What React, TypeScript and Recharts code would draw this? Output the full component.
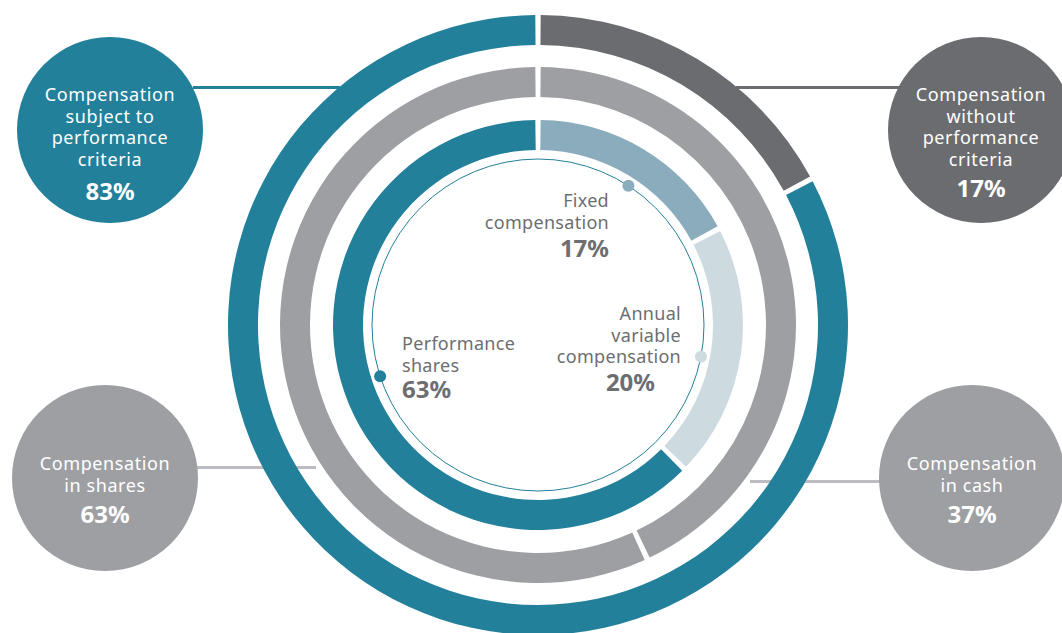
import React from 'react';
import { PieChart, Pie, Cell } from 'recharts';

// Outer ring: performance criteria split
const outerNames = ['Compensation without performance criteria', 'Compensation subject to performance criteria'];
const outerValues = [17, 83];

// Middle ring: cash vs shares (arc extent as drawn in the original)
const middleNames = ['Compensation in cash', 'Compensation in shares'];
const middleValues = [43, 57];
const middleLabels = ['37%', '63%'];

// Inner ring: components
const innerNames = ['Fixed compensation', 'Annual variable compensation', 'Performance shares'];
const innerValues = [17, 20, 63];

const TEAL = '#22809b';
const DARK_GREY = '#6b6c70';
const GREY = '#9e9fa3';
const LIGHT_LINE = '#bdbdc1';
const FIXED = '#8aacbd';
const ANNUAL = '#cddbe1';
const TEXT_GREY = '#6d6e71';

const FONT = '"Noto Sans", "Open Sans", sans-serif';

const toData = (names: string[], values: number[]) =>
  names.map((name, i) => ({ name, value: values[i] }));

const outerData = toData(outerNames, outerValues);
const middleData = toData(middleNames, middleValues);
const innerData = toData(innerNames, innerValues);

const outerColors = [DARK_GREY, TEAL];
const middleColors = [GREY, GREY];
const innerColors = [FIXED, ANNUAL, TEAL];

const CX = 538;
const CY = 325;

interface BubbleProps {
  cx: number;
  cy: number;
  fill: string;
  lines: string[];
  firstBaseline: number;
  pct: string;
  pctBaseline: number;
}

const Bubble = ({ cx, cy, fill, lines, firstBaseline, pct, pctBaseline }: BubbleProps) => (
  <g>
    <circle cx={cx} cy={cy} r={93} fill={fill} />
    {lines.map((l, i) => (
      <text
        key={i}
        x={cx}
        y={firstBaseline + i * 21.5}
        textAnchor="middle"
        fill="#fff"
        fontFamily={FONT}
        fontSize={18}
        letterSpacing={0.6}
      >
        {l}
      </text>
    ))}
    <text x={cx} y={pctBaseline} textAnchor="middle" fill="#fff" fontFamily={FONT} fontSize={24} fontWeight={700}>
      {pct}
    </text>
  </g>
);

interface InnerLabelProps {
  x: number;
  anchor: 'start' | 'end' | 'middle';
  lines: string[];
  firstBaseline: number;
  pct: string;
  pctX: number;
  pctAnchor: 'start' | 'end' | 'middle';
  pctBaseline: number;
}

const InnerLabel = ({ x, anchor, lines, firstBaseline, pct, pctX, pctAnchor, pctBaseline }: InnerLabelProps) => (
  <g>
    {lines.map((l, i) => (
      <text
        key={i}
        x={x}
        y={firstBaseline + i * 21.5}
        textAnchor={anchor}
        fill={TEXT_GREY}
        fontFamily={FONT}
        fontSize={18}
        letterSpacing={0.3}
      >
        {l}
      </text>
    ))}
    <text x={pctX} y={pctBaseline} textAnchor={pctAnchor} fill={TEXT_GREY} fontFamily={FONT} fontSize={24} fontWeight={700}>
      {pct}
    </text>
  </g>
);

// dot on the thin circle, angle clockwise from 12 o'clock
const dot = (angle: number, r: number) => {
  const rad = (angle * Math.PI) / 180;
  return { x: CX + r * Math.sin(rad), y: CY - r * Math.cos(rad) };
};

const App = () => {
  const d1 = dot(33, 166);
  const d2 = dot(101, 166);
  const d3 = dot(252, 166);

  return (
    <div style={{ position: 'absolute', left: 0, top: 0, width: 1062, height: 633, background: '#fff' }}>
      <PieChart width={1062} height={633} margin={{ top: 0, right: 0, bottom: 0, left: 0 }}>
        <Pie
          data={outerData}
          dataKey="value"
          cx={CX}
          cy={CY}
          innerRadius={280}
          outerRadius={310}
          startAngle={90 - 0.5}
          endAngle={-270 - 0.5}
          paddingAngle={1}
          stroke="none"
          isAnimationActive={false}
        >
          {outerData.map((_, i) => (
            <Cell key={i} fill={outerColors[i]} />
          ))}
        </Pie>
        <Pie
          data={middleData}
          dataKey="value"
          cx={CX}
          cy={CY}
          innerRadius={228}
          outerRadius={258}
          startAngle={90 - 0.6}
          endAngle={-270 - 0.6}
          paddingAngle={1.2}
          stroke="none"
          isAnimationActive={false}
        >
          {middleData.map((_, i) => (
            <Cell key={i} fill={middleColors[i]} />
          ))}
        </Pie>
        <Pie
          data={innerData}
          dataKey="value"
          cx={CX}
          cy={CY}
          innerRadius={175}
          outerRadius={205}
          startAngle={90 - 0.75}
          endAngle={-270 - 0.75}
          paddingAngle={1.5}
          stroke="none"
          isAnimationActive={false}
        >
          {innerData.map((_, i) => (
            <Cell key={i} fill={innerColors[i]} />
          ))}
        </Pie>

        <circle cx={CX} cy={CY} r={166} fill="none" stroke={TEAL} strokeWidth={1} />
        <circle cx={d1.x} cy={d1.y} r={6} fill={FIXED} />
        <circle cx={d2.x} cy={d2.y} r={6} fill={ANNUAL} />
        <circle cx={d3.x} cy={d3.y} r={6} fill={TEAL} />

        {/* connectors */}
        <line x1={193} y1={87.5} x2={340} y2={87.5} stroke={TEAL} strokeWidth={3} />
        <line x1={736} y1={87.5} x2={900} y2={87.5} stroke={DARK_GREY} strokeWidth={3} />
        <line x1={196} y1={467.5} x2={316} y2={467.5} stroke={LIGHT_LINE} strokeWidth={3} />
        <line x1={750} y1={481.5} x2={882} y2={481.5} stroke={LIGHT_LINE} strokeWidth={3} />

        <Bubble
          cx={110}
          cy={130}
          fill={TEAL}
          lines={['Compensation', 'subject to', 'performance', 'criteria']}
          firstBaseline={101}
          pct={`${outerValues[1]}%`}
          pctBaseline={200}
        />
        <Bubble
          cx={981}
          cy={130}
          fill={DARK_GREY}
          lines={['Compensation', 'without', 'performance', 'criteria']}
          firstBaseline={101}
          pct={`${outerValues[0]}%`}
          pctBaseline={197}
        />
        <Bubble
          cx={105}
          cy={478}
          fill={GREY}
          lines={['Compensation', 'in shares']}
          firstBaseline={470}
          pct={middleLabels[1]}
          pctBaseline={523}
        />
        <Bubble
          cx={972}
          cy={478}
          fill={GREY}
          lines={['Compensation', 'in cash']}
          firstBaseline={470}
          pct={middleLabels[0]}
          pctBaseline={523}
        />

        <InnerLabel
          x={609}
          anchor="end"
          lines={['Fixed', 'compensation']}
          firstBaseline={207}
          pct={`${innerValues[0]}%`}
          pctX={609}
          pctAnchor="end"
          pctBaseline={257}
        />
        <InnerLabel
          x={681}
          anchor="end"
          lines={['Annual', 'variable', 'compensation']}
          firstBaseline={320}
          pct={`${innerValues[1]}%`}
          pctX={655}
          pctAnchor="end"
          pctBaseline={391}
        />
        <InnerLabel
          x={402}
          anchor="start"
          lines={['Performance', 'shares']}
          firstBaseline={350}
          pct={`${innerValues[2]}%`}
          pctX={402}
          pctAnchor="start"
          pctBaseline={398}
        />
      </PieChart>
    </div>
  );
};

export default App;
